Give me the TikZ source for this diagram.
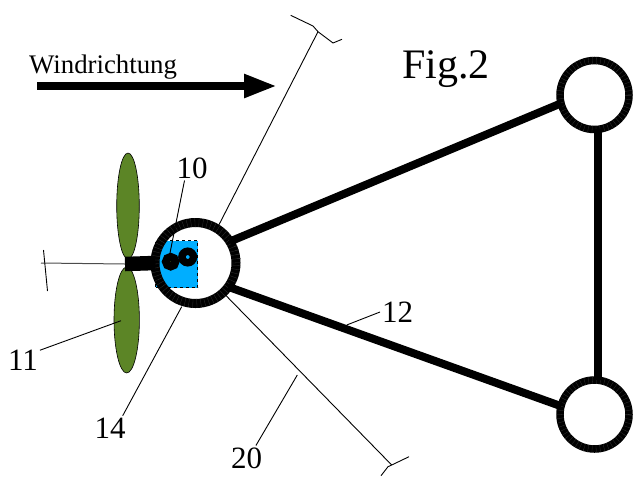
\documentclass[tikz,border=0pt]{standalone}
\usepackage{fontspec}
\setmainfont{Liberation Serif}
\usepackage{tikz}
\usetikzlibrary{arrows.meta,shapes.geometric}
\definecolor{bladegreen}{RGB}{92,133,38}
\definecolor{gearblue}{RGB}{0,174,255}
\tikzset{
	ringbig/.style={shape=circle,draw,outer sep=0pt,inner sep=0pt,line width=9pt,minimum size=81pt,postaction={draw=gray!40!black,line width=9pt,dash pattern=on 0.3pt off 3.7pt}},
	ringsmall/.style={shape=circle,draw,outer sep=0pt,inner sep=0pt,line width=7.5pt,minimum size=69pt,postaction={draw=gray!40!black,line width=7.5pt,dash pattern=on 0.3pt off 3.7pt}},
	blade/.style={shape=ellipse,draw,fill=bladegreen,line width=0.6pt,inner sep=0pt},
	gearwheel/.style={shape=circle,draw,inner sep=0pt,outer sep=0pt},
	strut/.style={line width=8pt},
	thinline/.style={line width=0.9pt},
	numlabel/.style={inner sep=0pt,outer sep=2pt,font=\fontsize{31}{31}\selectfont},
}
\begin{document}
\begin{tikzpicture}[x=1pt,y=-1pt]
	\useasboundingbox (0,0) rectangle (636,485);

	\node[shape=rectangle,draw,dashed,fill=gearblue,minimum width=42pt,minimum height=47pt,inner sep=0pt,outer sep=0pt] (box) at (176.5,264) {};

	\node[blade,minimum width=22.6pt,minimum height=106pt] (bladetop) at (128,206) {};
	\node[blade,minimum width=25.4pt,minimum height=106pt] (bladebot) at (126.7,320) {};

	\node[ringbig] (hub) at (195.5,263) {};
	\node[ringsmall] (ringtop) at (594.5,95) {};
	\node[ringsmall] (ringbot) at (594.5,414.5) {};

	\node[gearwheel,fill=bladegreen,line width=8pt,minimum size=9.5pt] (gear1) at (170.7,261.7) {};
	\node[gearwheel,fill=gearblue,line width=7.5pt,minimum size=11.5pt] (gear2) at (187.7,257) {};

	\coordinate (hubshaft) at (125,264);
	\coordinate (axisend) at (41,263);
	\coordinate (tick1) at (43.5,250);
	\coordinate (tick2) at (47.5,291);
	\path [-,line width=14.5pt] (hubshaft) edge (hub.west);
	\path [-,strut] (hub.32) edge (ringtop.194);
	\path [-,strut] (hub.-36) edge (ringbot.166);
	\path [-,strut] (ringtop.-85) edge (ringbot.85);
	\path [-,line width=1pt,draw=gray!60!black] (axisend) edge (hubshaft);
	\path [-,thinline] (tick1) edge (tick2);

	% cut lines
	\coordinate (topa) at (290.7,15.3);
	\coordinate (topb) at (313,26);
	\coordinate (topc) at (318,31.7);
	\coordinate (topd) at (333,43);
	\coordinate (tope) at (342,39.3);
	\coordinate (bota) at (409,456.7);
	\coordinate (botb) at (391.7,465);
	\coordinate (botc) at (388,466.7);
	\coordinate (botd) at (381,475.7);
	\draw[thinline] (topa) -- (topb) -- (topc) -- (topd) -- (tope);
	\draw[thinline] (bota) -- (botb) -- (botc) -- (botd);
	\draw[thinline] (hub.58) -- (topc);
	\draw[thinline] (hub.-47) -- (botb);

	\node[numlabel] (lab10) at (192,168) {10};
	\node[numlabel] (lab11) at (23,360) {11};
	\node[numlabel] (lab12) at (397.5,312) {12};
	\node[numlabel] (lab14) at (110,428) {14};
	\node[numlabel] (lab20) at (246.5,458) {20};
	\coordinate (to10) at (170,253);
	\coordinate (to11) at (121,320.7);
	\coordinate (to12) at (346.7,325);
	\coordinate (to14) at (181.7,306.7);
	\coordinate (to20) at (297.3,375);
	\draw[thinline] (lab10.239) -- (to10);
	\draw[thinline] (lab11.30) -- (to11);
	\draw[thinline] (lab12.west) -- (to12);
	\draw[thinline] (lab14.44) -- (to14);
	\draw[thinline] (lab20.53) -- (to20);

	\node[inner sep=0pt,anchor=base west,font=\fontsize{26.8}{27}\selectfont] (wind) at (29,73) {Windrichtung};
	\coordinate (arrowa) at (37,86);
	\coordinate (arrowb) at (277,86);
	\draw[-{Triangle[length=33pt,width=22pt]},line width=8pt] (arrowa) -- (arrowb);
	\node[inner sep=0pt,anchor=base west,font=\fontsize{42}{42}\selectfont] (figname) at (402,78) {Fig.2};
\end{tikzpicture}
\end{document}
